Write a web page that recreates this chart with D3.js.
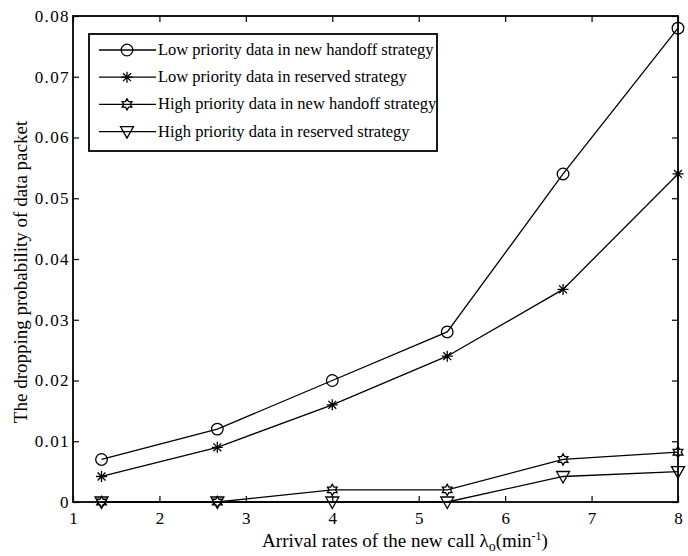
<!DOCTYPE html>
<html>
<head>
<meta charset="utf-8">
<script src="https://cdn.jsdelivr.net/npm/d3@7/dist/d3.min.js"></script>
<style>
  body { margin: 0; background: #fff; }
  text { font-family: "Liberation Serif", "Times New Roman", serif; fill: #000; }
</style>
</head>
<body>
<svg id="chart"></svg>
<script>
// data
const arrivalRates = [1.33, 2.67, 4, 5.33, 6.67, 8];
const lowNewHandoff = [0.007, 0.012, 0.02, 0.028, 0.054, 0.078];
const lowReserved = [0.0042, 0.009, 0.016, 0.024, 0.035, 0.054];
const highNewHandoff = [0, 0, 0.002, 0.002, 0.007, 0.0082];
const highReserved = [0, 0, 0, 0, 0.0042, 0.005];
const seriesNames = [
  "Low priority data in new handoff strategy",
  "Low priority data in reserved strategy",
  "High priority data in new handoff strategy",
  "High priority data in reserved strategy"
];
const markerTypes = ["circle", "asterisk", "hexagram", "triangle"];
const xTicks = [1, 2, 3, 4, 5, 6, 7, 8];
const yTicks = [0, 0.01, 0.02, 0.03, 0.04, 0.05, 0.06, 0.07, 0.08];

const width = 688;
const height = 556;
const margin = { left: 73, right: 10, top: 16, bottom: 54 };
const serif = "Liberation Serif, Times New Roman, serif";

const svg = d3.select("#chart")
  .attr("width", width)
  .attr("height", height);

const xScale = d3.scaleLinear()
  .domain([1, 8])
  .range([margin.left, width - margin.right]);

const yScale = d3.scaleLinear()
  .domain([0, 0.08])
  .range([height - margin.bottom, margin.top]);

const plotW = width - margin.left - margin.right;
const plotH = height - margin.top - margin.bottom;

// marker paths
function markerPath(type) {
  if (type == "circle") {
    return d3.symbol().type(d3.symbolCircle).size(Math.PI * 5.8 * 5.8)();
  }
  if (type == "asterisk") {
    let r = 5.5, d = r * 0.72;
    return `M0,${-r}L0,${r}M${-r},0L${r},0M${-d},${-d}L${d},${d}M${-d},${d}L${d},${-d}`;
  }
  if (type == "hexagram") {
    let pts = [];
    for (let i = 0; i < 12; i++) {
      let a = -Math.PI / 2 + i * Math.PI / 6;
      let r = i % 2 == 0 ? 5.6 : 3.2;
      pts.push([r * Math.cos(a), r * Math.sin(a)]);
    }
    return "M" + pts.map(p => p.join(",")).join("L") + "Z";
  }
  // downward triangle
  return "M-6.5,-5L6.5,-5L0,6.5Z";
}

const allSeries = [lowNewHandoff, lowReserved, highNewHandoff, highReserved];

const line = d3.line()
  .x((d, i) => xScale(arrivalRates[i]))
  .y(d => yScale(d));

// axes (MATLAB style: ticks inside, box on)
let xAxisBottom = d3.axisBottom(xScale).tickValues(xTicks).tickSize(-6).tickSizeOuter(0).tickPadding(10)
  .tickFormat(d3.format("d"));
let xAxisTop = d3.axisTop(xScale).tickValues(xTicks).tickSize(-6).tickSizeOuter(0).tickFormat("");
let yAxisLeft = d3.axisLeft(yScale).tickValues(yTicks).tickSize(-6).tickSizeOuter(0).tickPadding(3)
  .tickFormat(d => d == 0 ? "0" : d3.format(".2f")(d));
let yAxisRight = d3.axisRight(yScale).tickValues(yTicks).tickSize(-6).tickSizeOuter(0).tickFormat("");

svg.append("g")
  .attr("transform", `translate(0, ${height - margin.bottom})`)
  .call(xAxisBottom)
  .attr("font-family", serif)
  .attr("font-size", 17);

svg.append("g")
  .attr("transform", `translate(0, ${margin.top})`)
  .call(xAxisTop);

svg.append("g")
  .attr("transform", `translate(${margin.left}, 0)`)
  .call(yAxisLeft)
  .attr("font-family", serif)
  .attr("font-size", 17)
  .call(g => g.selectAll("text").style("letter-spacing", "1.4px"));

svg.append("g")
  .attr("transform", `translate(${width - margin.right}, 0)`)
  .call(yAxisRight);

svg.selectAll(".domain").remove();
svg.selectAll(".tick line").attr("stroke", "#000").attr("stroke-width", 1.2);

// box
svg.append("rect")
  .attr("x", margin.left)
  .attr("y", margin.top)
  .attr("width", plotW)
  .attr("height", plotH)
  .attr("fill", "none")
  .attr("stroke", "#000")
  .attr("stroke-width", 1.8);

// lines and markers
allSeries.forEach((vals, s) => {
  svg.append("path")
    .datum(vals)
    .attr("d", line)
    .attr("fill", "none")
    .attr("stroke", "#000")
    .attr("stroke-width", 1.3);

  svg.selectAll(".m" + s)
    .data(vals)
    .enter()
    .append("path")
      .attr("class", "m" + s)
      .attr("transform", (d, i) => `translate(${xScale(arrivalRates[i])}, ${yScale(d)})`)
      .attr("d", markerPath(markerTypes[s]))
      .attr("fill", "none")
      .attr("stroke", "#000")
      .attr("stroke-width", 1.3);
});

// legend
const legend = svg.append("g").attr("transform", "translate(89, 34)");
legend.append("rect")
  .attr("width", 348)
  .attr("height", 117)
  .attr("fill", "#fff")
  .attr("stroke", "#000")
  .attr("stroke-width", 1.8);

seriesNames.forEach((name, i) => {
  let y = 16 + i * 27.2;
  legend.append("line")
    .attr("x1", 10).attr("x2", 67)
    .attr("y1", y).attr("y2", y)
    .attr("stroke", "#000").attr("stroke-width", 1.3);
  legend.append("path")
    .attr("transform", `translate(38, ${y})`)
    .attr("d", markerPath(markerTypes[i]))
    .attr("fill", "none")
    .attr("stroke", "#000")
    .attr("stroke-width", 1.3);
  legend.append("text")
    .attr("x", 69)
    .attr("y", y + 5)
    .style("font-size", "16.5px")
    .text(name);
});

// axis titles
let xTitle = svg.append("text")
  .attr("x", 405)
  .attr("y", 547)
  .attr("text-anchor", "middle")
  .style("font-size", "19px");
xTitle.append("tspan").text("Arrival rates of the new call λ");
xTitle.append("tspan").attr("dy", 4).style("font-size", "14px").text("o");
xTitle.append("tspan").attr("dy", -4).text("(min");
xTitle.append("tspan").attr("dy", -7).style("font-size", "12px").text("-1");
xTitle.append("tspan").attr("dy", 7).text(")");

svg.append("text")
  .attr("transform", "rotate(-90)")
  .attr("x", -272)
  .attr("y", 27)
  .attr("text-anchor", "middle")
  .style("font-size", "19px")
  .text("The dropping probability of data packet");
</script>
</body>
</html>
